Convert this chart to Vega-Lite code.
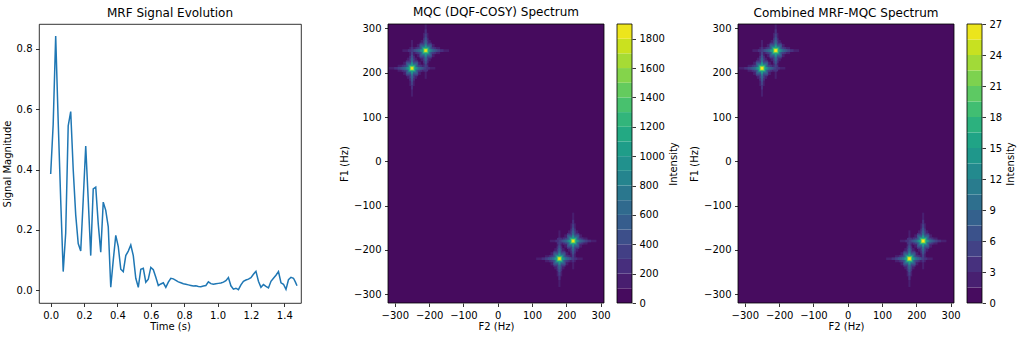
{
  "$schema": "https://vega.github.io/schema/vega-lite/v6.json",
  "background": "white",
  "padding": {"left": 1, "top": 6, "right": 2, "bottom": 2},
  "bounds": "flush",
  "spacing": 87,
  "config": {
    "font": "DejaVu Sans",
    "view": {"stroke": null},
    "axis": {"labelFont": "DejaVu Sans", "labelFontSize": 10, "labelColor": "#000", "titleFont": "DejaVu Sans", "titleFontSize": 10, "titleFontWeight": "normal", "titleColor": "#000", "tickColor": "#000", "tickWidth": 0.8, "tickSize": 3.5, "labelPadding": 3.5, "titlePadding": 4, "grid": false, "domain": false, "labelOverlap": false},
    "axisX": {"titlePadding": 1.5},
    "title": {"font": "DejaVu Sans", "fontSize": 12, "fontWeight": "normal", "color": "#000", "offset": 4, "baseline": "alphabetic", "anchor": "middle"}
  },
  "datasets": {
    "signal": [
      {"t": 0.000, "v": 0.385}, {"t": 0.015, "v": 0.55}, {"t": 0.030, "v": 0.842}, {"t": 0.045, "v": 0.56},
      {"t": 0.060, "v": 0.30}, {"t": 0.075, "v": 0.062}, {"t": 0.090, "v": 0.19}, {"t": 0.105, "v": 0.545},
      {"t": 0.120, "v": 0.592}, {"t": 0.135, "v": 0.40}, {"t": 0.150, "v": 0.25}, {"t": 0.165, "v": 0.155},
      {"t": 0.180, "v": 0.13}, {"t": 0.195, "v": 0.30}, {"t": 0.210, "v": 0.478}, {"t": 0.225, "v": 0.30},
      {"t": 0.240, "v": 0.115}, {"t": 0.255, "v": 0.336}, {"t": 0.270, "v": 0.342}, {"t": 0.285, "v": 0.22},
      {"t": 0.300, "v": 0.126}, {"t": 0.315, "v": 0.292}, {"t": 0.330, "v": 0.265}, {"t": 0.345, "v": 0.21},
      {"t": 0.360, "v": 0.01}, {"t": 0.375, "v": 0.10}, {"t": 0.390, "v": 0.182}, {"t": 0.405, "v": 0.145},
      {"t": 0.420, "v": 0.07}, {"t": 0.435, "v": 0.062}, {"t": 0.450, "v": 0.115}, {"t": 0.465, "v": 0.13},
      {"t": 0.480, "v": 0.15}, {"t": 0.495, "v": 0.115}, {"t": 0.510, "v": 0.04}, {"t": 0.525, "v": 0.01},
      {"t": 0.540, "v": 0.07}, {"t": 0.555, "v": 0.073}, {"t": 0.570, "v": 0.027}, {"t": 0.585, "v": 0.037},
      {"t": 0.600, "v": 0.076}, {"t": 0.615, "v": 0.068}, {"t": 0.630, "v": 0.043}, {"t": 0.645, "v": 0.016},
      {"t": 0.660, "v": 0.021}, {"t": 0.675, "v": 0.025}, {"t": 0.690, "v": 0.01}, {"t": 0.705, "v": 0.027},
      {"t": 0.720, "v": 0.04}, {"t": 0.735, "v": 0.038}, {"t": 0.750, "v": 0.033}, {"t": 0.765, "v": 0.028},
      {"t": 0.780, "v": 0.025}, {"t": 0.795, "v": 0.022}, {"t": 0.810, "v": 0.02}, {"t": 0.825, "v": 0.018},
      {"t": 0.840, "v": 0.016}, {"t": 0.855, "v": 0.014}, {"t": 0.870, "v": 0.015}, {"t": 0.885, "v": 0.013},
      {"t": 0.900, "v": 0.012}, {"t": 0.915, "v": 0.014}, {"t": 0.930, "v": 0.016}, {"t": 0.945, "v": 0.028},
      {"t": 0.960, "v": 0.022}, {"t": 0.975, "v": 0.02}, {"t": 0.990, "v": 0.022}, {"t": 1.005, "v": 0.023},
      {"t": 1.020, "v": 0.024}, {"t": 1.035, "v": 0.027}, {"t": 1.050, "v": 0.032}, {"t": 1.065, "v": 0.042},
      {"t": 1.080, "v": 0.015}, {"t": 1.095, "v": 0.004}, {"t": 1.110, "v": 0.007}, {"t": 1.125, "v": 0.002},
      {"t": 1.140, "v": 0.018}, {"t": 1.155, "v": 0.03}, {"t": 1.170, "v": 0.034}, {"t": 1.185, "v": 0.037},
      {"t": 1.200, "v": 0.042}, {"t": 1.215, "v": 0.053}, {"t": 1.230, "v": 0.063}, {"t": 1.245, "v": 0.03},
      {"t": 1.260, "v": 0.01}, {"t": 1.275, "v": 0.019}, {"t": 1.290, "v": 0.013}, {"t": 1.305, "v": 0.008},
      {"t": 1.320, "v": 0.03}, {"t": 1.335, "v": 0.04}, {"t": 1.350, "v": 0.05}, {"t": 1.365, "v": 0.062},
      {"t": 1.380, "v": 0.025}, {"t": 1.395, "v": 0.02}, {"t": 1.410, "v": 0.003}, {"t": 1.425, "v": 0.035},
      {"t": 1.440, "v": 0.043}, {"t": 1.455, "v": 0.04}, {"t": 1.466, "v": 0.028}, {"t": 1.476, "v": 0.015}
    ],
    "bg": [{"x1": -320, "x2": 310, "y1": -320, "y2": 310, "b": 0}],
    "peaks": [
      {"x1": -318, "x2": -182, "y1": 207, "y2": 213, "b": 1},
      {"x1": -253, "x2": -247, "y1": 146, "y2": 274, "b": 1},
      {"x1": -292, "x2": -208, "y1": 202, "y2": 218, "b": 1},
      {"x1": -258, "x2": -242, "y1": 170, "y2": 250, "b": 1},
      {"x1": -276, "x2": -224, "y1": 195, "y2": 225, "b": 1},
      {"x1": -265, "x2": -235, "y1": 186, "y2": 234, "b": 1},
      {"x1": -278, "x2": -142, "y1": 247, "y2": 253, "b": 1},
      {"x1": -213, "x2": -207, "y1": 186, "y2": 310, "b": 1},
      {"x1": -252, "x2": -168, "y1": 242, "y2": 258, "b": 1},
      {"x1": -218, "x2": -202, "y1": 210, "y2": 290, "b": 1},
      {"x1": -236, "x2": -184, "y1": 235, "y2": 265, "b": 1},
      {"x1": -225, "x2": -195, "y1": 226, "y2": 274, "b": 1},
      {"x1": 152, "x2": 288, "y1": -183, "y2": -177, "b": 1},
      {"x1": 217, "x2": 223, "y1": -244, "y2": -116, "b": 1},
      {"x1": 178, "x2": 262, "y1": -188, "y2": -172, "b": 1},
      {"x1": 212, "x2": 228, "y1": -220, "y2": -140, "b": 1},
      {"x1": 194, "x2": 246, "y1": -195, "y2": -165, "b": 1},
      {"x1": 205, "x2": 235, "y1": -204, "y2": -156, "b": 1},
      {"x1": 112, "x2": 248, "y1": -223, "y2": -217, "b": 1},
      {"x1": 177, "x2": 183, "y1": -284, "y2": -156, "b": 1},
      {"x1": 138, "x2": 222, "y1": -228, "y2": -212, "b": 1},
      {"x1": 172, "x2": 188, "y1": -260, "y2": -180, "b": 1},
      {"x1": 154, "x2": 206, "y1": -235, "y2": -205, "b": 1},
      {"x1": 165, "x2": 195, "y1": -244, "y2": -196, "b": 1},
      {"x1": -258, "x2": -242, "y1": 242, "y2": 258, "b": 1},
      {"x1": 212, "x2": 228, "y1": -228, "y2": -212, "b": 1},

      {"x1": -302, "x2": -198, "y1": 207, "y2": 213, "b": 2},
      {"x1": -253, "x2": -247, "y1": 162, "y2": 258, "b": 2},
      {"x1": -280, "x2": -220, "y1": 202, "y2": 218, "b": 2},
      {"x1": -258, "x2": -242, "y1": 182, "y2": 238, "b": 2},
      {"x1": -268, "x2": -232, "y1": 192, "y2": 228, "b": 2},
      {"x1": -262, "x2": -158, "y1": 247, "y2": 253, "b": 2},
      {"x1": -213, "x2": -207, "y1": 202, "y2": 298, "b": 2},
      {"x1": -240, "x2": -180, "y1": 242, "y2": 258, "b": 2},
      {"x1": -218, "x2": -202, "y1": 222, "y2": 278, "b": 2},
      {"x1": -228, "x2": -192, "y1": 232, "y2": 268, "b": 2},
      {"x1": 168, "x2": 272, "y1": -183, "y2": -177, "b": 2},
      {"x1": 217, "x2": 223, "y1": -228, "y2": -132, "b": 2},
      {"x1": 190, "x2": 250, "y1": -188, "y2": -172, "b": 2},
      {"x1": 212, "x2": 228, "y1": -208, "y2": -152, "b": 2},
      {"x1": 202, "x2": 238, "y1": -198, "y2": -162, "b": 2},
      {"x1": 128, "x2": 232, "y1": -223, "y2": -217, "b": 2},
      {"x1": 177, "x2": 183, "y1": -268, "y2": -172, "b": 2},
      {"x1": 150, "x2": 210, "y1": -228, "y2": -212, "b": 2},
      {"x1": 172, "x2": 188, "y1": -248, "y2": -192, "b": 2},
      {"x1": 162, "x2": 198, "y1": -238, "y2": -202, "b": 2},
      {"x1": -217, "x2": -203, "y1": 203, "y2": 217, "b": 2},
      {"x1": 173, "x2": 187, "y1": -187, "y2": -173, "b": 2},

      {"x1": -292, "x2": -208, "y1": 207, "y2": 213, "b": 3},
      {"x1": -253, "x2": -247, "y1": 172, "y2": 248, "b": 3},
      {"x1": -274, "x2": -226, "y1": 203, "y2": 217, "b": 3},
      {"x1": -257, "x2": -243, "y1": 188, "y2": 232, "b": 3},
      {"x1": -266, "x2": -234, "y1": 194, "y2": 226, "b": 3},
      {"x1": -252, "x2": -168, "y1": 247, "y2": 253, "b": 3},
      {"x1": -213, "x2": -207, "y1": 212, "y2": 288, "b": 3},
      {"x1": -234, "x2": -186, "y1": 243, "y2": 257, "b": 3},
      {"x1": -217, "x2": -203, "y1": 228, "y2": 272, "b": 3},
      {"x1": -226, "x2": -194, "y1": 234, "y2": 266, "b": 3},
      {"x1": 178, "x2": 262, "y1": -183, "y2": -177, "b": 3},
      {"x1": 217, "x2": 223, "y1": -218, "y2": -142, "b": 3},
      {"x1": 196, "x2": 244, "y1": -187, "y2": -173, "b": 3},
      {"x1": 213, "x2": 227, "y1": -202, "y2": -158, "b": 3},
      {"x1": 204, "x2": 236, "y1": -196, "y2": -164, "b": 3},
      {"x1": 138, "x2": 222, "y1": -223, "y2": -217, "b": 3},
      {"x1": 177, "x2": 183, "y1": -258, "y2": -182, "b": 3},
      {"x1": 156, "x2": 204, "y1": -227, "y2": -213, "b": 3},
      {"x1": 173, "x2": 187, "y1": -242, "y2": -198, "b": 3},
      {"x1": 164, "x2": 196, "y1": -236, "y2": -204, "b": 3},

      {"x1": -284, "x2": -216, "y1": 207, "y2": 213, "b": 4},
      {"x1": -253, "x2": -247, "y1": 180, "y2": 240, "b": 4},
      {"x1": -268, "x2": -232, "y1": 196, "y2": 224, "b": 4},
      {"x1": -244, "x2": -176, "y1": 247, "y2": 253, "b": 4},
      {"x1": -213, "x2": -207, "y1": 220, "y2": 280, "b": 4},
      {"x1": -228, "x2": -192, "y1": 236, "y2": 264, "b": 4},
      {"x1": 186, "x2": 254, "y1": -183, "y2": -177, "b": 4},
      {"x1": 217, "x2": 223, "y1": -210, "y2": -150, "b": 4},
      {"x1": 202, "x2": 238, "y1": -194, "y2": -166, "b": 4},
      {"x1": 146, "x2": 214, "y1": -223, "y2": -217, "b": 4},
      {"x1": 177, "x2": 183, "y1": -250, "y2": -190, "b": 4},
      {"x1": 162, "x2": 198, "y1": -234, "y2": -206, "b": 4},

      {"x1": -278, "x2": -222, "y1": 207, "y2": 213, "b": 5},
      {"x1": -253, "x2": -247, "y1": 186, "y2": 234, "b": 5},
      {"x1": -265, "x2": -235, "y1": 198, "y2": 222, "b": 5},
      {"x1": -238, "x2": -182, "y1": 247, "y2": 253, "b": 5},
      {"x1": -213, "x2": -207, "y1": 226, "y2": 274, "b": 5},
      {"x1": -225, "x2": -195, "y1": 238, "y2": 262, "b": 5},
      {"x1": 192, "x2": 248, "y1": -183, "y2": -177, "b": 5},
      {"x1": 217, "x2": 223, "y1": -204, "y2": -156, "b": 5},
      {"x1": 205, "x2": 235, "y1": -192, "y2": -168, "b": 5},
      {"x1": 152, "x2": 208, "y1": -223, "y2": -217, "b": 5},
      {"x1": 177, "x2": 183, "y1": -244, "y2": -196, "b": 5},
      {"x1": 165, "x2": 195, "y1": -232, "y2": -208, "b": 5},

      {"x1": -272, "x2": -228, "y1": 207, "y2": 213, "b": 6},
      {"x1": -253, "x2": -247, "y1": 192, "y2": 228, "b": 6},
      {"x1": -263, "x2": -237, "y1": 200, "y2": 220, "b": 6},
      {"x1": -232, "x2": -188, "y1": 247, "y2": 253, "b": 6},
      {"x1": -213, "x2": -207, "y1": 232, "y2": 268, "b": 6},
      {"x1": -223, "x2": -197, "y1": 240, "y2": 260, "b": 6},
      {"x1": 198, "x2": 242, "y1": -183, "y2": -177, "b": 6},
      {"x1": 217, "x2": 223, "y1": -198, "y2": -162, "b": 6},
      {"x1": 207, "x2": 233, "y1": -190, "y2": -170, "b": 6},
      {"x1": 158, "x2": 202, "y1": -223, "y2": -217, "b": 6},
      {"x1": 177, "x2": 183, "y1": -238, "y2": -202, "b": 6},
      {"x1": 167, "x2": 193, "y1": -230, "y2": -210, "b": 6},

      {"x1": -267, "x2": -233, "y1": 207, "y2": 213, "b": 8},
      {"x1": -253, "x2": -247, "y1": 196, "y2": 224, "b": 8},
      {"x1": -261, "x2": -239, "y1": 201.5, "y2": 218.5, "b": 8},
      {"x1": -227, "x2": -193, "y1": 247, "y2": 253, "b": 8},
      {"x1": -213, "x2": -207, "y1": 236, "y2": 264, "b": 8},
      {"x1": -221, "x2": -199, "y1": 241.5, "y2": 258.5, "b": 8},
      {"x1": 203, "x2": 237, "y1": -183, "y2": -177, "b": 8},
      {"x1": 217, "x2": 223, "y1": -194, "y2": -166, "b": 8},
      {"x1": 209, "x2": 231, "y1": -188.5, "y2": -171.5, "b": 8},
      {"x1": 163, "x2": 197, "y1": -223, "y2": -217, "b": 8},
      {"x1": 177, "x2": 183, "y1": -234, "y2": -206, "b": 8},
      {"x1": 169, "x2": 191, "y1": -228.5, "y2": -211.5, "b": 8},

      {"x1": -263, "x2": -237, "y1": 207.5, "y2": 212.5, "b": 10},
      {"x1": -252.5, "x2": -247.5, "y1": 199, "y2": 221, "b": 10},
      {"x1": -259, "x2": -241, "y1": 203, "y2": 217, "b": 10},
      {"x1": -223, "x2": -197, "y1": 247.5, "y2": 252.5, "b": 10},
      {"x1": -212.5, "x2": -207.5, "y1": 239, "y2": 261, "b": 10},
      {"x1": -219, "x2": -201, "y1": 243, "y2": 257, "b": 10},
      {"x1": 207, "x2": 233, "y1": -182.5, "y2": -177.5, "b": 10},
      {"x1": 217.5, "x2": 222.5, "y1": -191, "y2": -169, "b": 10},
      {"x1": 211, "x2": 229, "y1": -187, "y2": -173, "b": 10},
      {"x1": 167, "x2": 193, "y1": -222.5, "y2": -217.5, "b": 10},
      {"x1": 177.5, "x2": 182.5, "y1": -231, "y2": -209, "b": 10},
      {"x1": 171, "x2": 189, "y1": -227, "y2": -213, "b": 10},

      {"x1": -257.5, "x2": -242.5, "y1": 204, "y2": 216, "b": 12},
      {"x1": -217.5, "x2": -202.5, "y1": 244, "y2": 256, "b": 12},
      {"x1": 212.5, "x2": 227.5, "y1": -186, "y2": -174, "b": 12},
      {"x1": 172.5, "x2": 187.5, "y1": -226, "y2": -214, "b": 12},

      {"x1": -256, "x2": -244, "y1": 205.5, "y2": 214.5, "b": 14},
      {"x1": -216, "x2": -204, "y1": 245.5, "y2": 254.5, "b": 14},
      {"x1": 214, "x2": 226, "y1": -184.5, "y2": -175.5, "b": 14},
      {"x1": 174, "x2": 186, "y1": -224.5, "y2": -215.5, "b": 14},

      {"x1": -254.5, "x2": -245.5, "y1": 206.5, "y2": 213.5, "b": 16},
      {"x1": -214.5, "x2": -205.5, "y1": 246.5, "y2": 253.5, "b": 16},
      {"x1": 215.5, "x2": 224.5, "y1": -183.5, "y2": -176.5, "b": 16},
      {"x1": 175.5, "x2": 184.5, "y1": -223.5, "y2": -216.5, "b": 16},

      {"x1": -253, "x2": -247, "y1": 207.5, "y2": 212.5, "b": 18},
      {"x1": -213, "x2": -207, "y1": 247.5, "y2": 252.5, "b": 18},
      {"x1": 217, "x2": 223, "y1": -182.5, "y2": -177.5, "b": 18},
      {"x1": 177, "x2": 183, "y1": -222.5, "y2": -217.5, "b": 18}
    ],
    "cbar2": [
      {"lo": 0, "hi": 100, "b": 0}, {"lo": 100, "hi": 200, "b": 1}, {"lo": 200, "hi": 300, "b": 2},
      {"lo": 300, "hi": 400, "b": 3}, {"lo": 400, "hi": 500, "b": 4}, {"lo": 500, "hi": 600, "b": 5},
      {"lo": 600, "hi": 700, "b": 6}, {"lo": 700, "hi": 800, "b": 7}, {"lo": 800, "hi": 900, "b": 8},
      {"lo": 900, "hi": 1000, "b": 9}, {"lo": 1000, "hi": 1100, "b": 10}, {"lo": 1100, "hi": 1200, "b": 11},
      {"lo": 1200, "hi": 1300, "b": 12}, {"lo": 1300, "hi": 1400, "b": 13}, {"lo": 1400, "hi": 1500, "b": 14},
      {"lo": 1500, "hi": 1600, "b": 15}, {"lo": 1600, "hi": 1700, "b": 16}, {"lo": 1700, "hi": 1800, "b": 17},
      {"lo": 1800, "hi": 1900, "b": 18}
    ],
    "cbar3": [
      {"lo": 0, "hi": 1.5, "b": 0}, {"lo": 1.5, "hi": 3, "b": 1}, {"lo": 3, "hi": 4.5, "b": 2},
      {"lo": 4.5, "hi": 6, "b": 3}, {"lo": 6, "hi": 7.5, "b": 4}, {"lo": 7.5, "hi": 9, "b": 5},
      {"lo": 9, "hi": 10.5, "b": 6}, {"lo": 10.5, "hi": 12, "b": 7}, {"lo": 12, "hi": 13.5, "b": 8},
      {"lo": 13.5, "hi": 15, "b": 9}, {"lo": 15, "hi": 16.5, "b": 10}, {"lo": 16.5, "hi": 18, "b": 11},
      {"lo": 18, "hi": 19.5, "b": 12}, {"lo": 19.5, "hi": 21, "b": 13}, {"lo": 21, "hi": 22.5, "b": 14},
      {"lo": 22.5, "hi": 24, "b": 15}, {"lo": 24, "hi": 25.5, "b": 16}, {"lo": 25.5, "hi": 27, "b": 17}
    ]
  },
  "hconcat": [
    {
      "width": 262,
      "height": 279,
      "view": {"stroke": "#000", "strokeWidth": 0.8},
      "title": {"text": "MRF Signal Evolution"},
      "data": {"name": "signal"},
      "mark": {"type": "line", "color": "#1f77b4", "strokeWidth": 1.5},
      "encoding": {
        "x": {"field": "t", "type": "quantitative", "scale": {"domain": [-0.07, 1.5], "nice": false, "zero": false}, "axis": {"values": [0, 0.2, 0.4, 0.6, 0.8, 1.0, 1.2, 1.4], "format": ".1f", "title": "Time (s)"}},
        "y": {"field": "v", "type": "quantitative", "scale": {"domain": [-0.042, 0.882], "nice": false, "zero": false}, "axis": {"values": [0, 0.2, 0.4, 0.6, 0.8], "format": ".1f", "title": "Signal Magnitude"}}
      }
    },
    {
      "width": 263,
      "height": 279,
      "title": {"text": "MQC (DQF-COSY) Spectrum", "dx": -23.5},
      "layer": [
        {
          "layer": [
            {
              "data": {"name": "bg"},
              "mark": {"type": "rect"},
              "encoding": {
                "x": {"field": "x1", "type": "quantitative", "scale": {"domain": [-320, 310], "range": [0, 216], "nice": false, "zero": false}, "axis": {"values": [-300, -200, -100, 0, 100, 200, 300], "title": "F2 (Hz)"}},
                "x2": {"field": "x2"},
                "y": {"field": "y1", "type": "quantitative", "scale": {"domain": [-320, 310], "nice": false, "zero": false}, "axis": {"values": [-300, -200, -100, 0, 100, 200, 300], "title": "F1 (Hz)"}},
                "y2": {"field": "y2"},
                "color": {"field": "b", "type": "quantitative", "scale": {"scheme": "viridis", "domain": [-0.5, 18.5], "clamp": true}, "legend": null}
              }
            },
            {
              "data": {"name": "peaks"},
              "mark": {"type": "rect"},
              "encoding": {
                "x": {"field": "x1", "type": "quantitative"},
                "x2": {"field": "x2"},
                "y": {"field": "y1", "type": "quantitative"},
                "y2": {"field": "y2"},
                "color": {"field": "b", "type": "quantitative", "legend": null}
              }
            },
            {
              "data": {"name": "bg"},
              "mark": {"type": "rect", "filled": false, "color": "#000", "strokeWidth": 0.8},
              "encoding": {
                "x": {"field": "x1", "type": "quantitative"},
                "x2": {"field": "x2"},
                "y": {"field": "y1", "type": "quantitative"},
                "y2": {"field": "y2"}
              }
            }
          ]
        },
        {
          "layer": [
            {
              "data": {"name": "cbar2"},
              "mark": {"type": "rect"},
              "encoding": {
                "x": {"datum": 0, "type": "quantitative", "scale": {"domain": [0, 1], "range": [229, 244], "nice": false, "zero": false}, "axis": null},
                "x2": {"datum": 1},
                "y": {"field": "lo", "type": "quantitative", "scale": {"domain": [0, 1900], "nice": false, "zero": false}, "axis": {"orient": "right", "offset": -19, "values": [0, 200, 400, 600, 800, 1000, 1200, 1400, 1600, 1800], "labelOverlap": false, "tickCount": 10, "format": "d", "title": "Intensity", "titleAngle": 270, "titleBaseline": "top"}},
                "y2": {"field": "hi"},
                "color": {"field": "b", "type": "quantitative", "scale": {"scheme": "viridis", "domain": [-0.5, 18.5], "clamp": true}, "legend": null}
              }
            },
            {
              "data": {"values": [{"lo": 0, "hi": 1900}]},
              "mark": {"type": "rect", "filled": false, "color": "#000", "strokeWidth": 0.8},
              "encoding": {
                "x": {"datum": 0, "type": "quantitative"},
                "x2": {"datum": 1},
                "y": {"field": "lo", "type": "quantitative"},
                "y2": {"field": "hi"}
              }
            }
          ]
        }
      ],
      "resolve": {"scale": {"x": "independent", "y": "independent"}}
    },
    {
      "width": 244,
      "height": 279,
      "title": {"text": "Combined MRF-MQC Spectrum", "dx": -14, "offset": -1},
      "layer": [
        {
          "layer": [
            {
              "data": {"name": "bg"},
              "mark": {"type": "rect"},
              "encoding": {
                "x": {"field": "x1", "type": "quantitative", "scale": {"domain": [-320, 310], "range": [0, 216], "nice": false, "zero": false}, "axis": {"values": [-300, -200, -100, 0, 100, 200, 300], "title": "F2 (Hz)"}},
                "x2": {"field": "x2"},
                "y": {"field": "y1", "type": "quantitative", "scale": {"domain": [-320, 310], "nice": false, "zero": false}, "axis": {"values": [-300, -200, -100, 0, 100, 200, 300], "title": "F1 (Hz)"}},
                "y2": {"field": "y2"},
                "color": {"field": "b", "type": "quantitative", "scale": {"scheme": "viridis", "domain": [-0.5, 17.5], "clamp": true}, "legend": null}
              }
            },
            {
              "data": {"name": "peaks"},
              "mark": {"type": "rect"},
              "encoding": {
                "x": {"field": "x1", "type": "quantitative"},
                "x2": {"field": "x2"},
                "y": {"field": "y1", "type": "quantitative"},
                "y2": {"field": "y2"},
                "color": {"field": "b", "type": "quantitative", "legend": null}
              }
            },
            {
              "data": {"name": "bg"},
              "mark": {"type": "rect", "filled": false, "color": "#000", "strokeWidth": 0.8},
              "encoding": {
                "x": {"field": "x1", "type": "quantitative"},
                "x2": {"field": "x2"},
                "y": {"field": "y1", "type": "quantitative"},
                "y2": {"field": "y2"}
              }
            }
          ]
        },
        {
          "layer": [
            {
              "data": {"name": "cbar3"},
              "mark": {"type": "rect"},
              "encoding": {
                "x": {"datum": 0, "type": "quantitative", "scale": {"domain": [0, 1], "range": [229, 244], "nice": false, "zero": false}, "axis": null},
                "x2": {"datum": 1},
                "y": {"field": "lo", "type": "quantitative", "scale": {"domain": [0, 27], "nice": false, "zero": false}, "axis": {"orient": "right", "values": [0, 3, 6, 9, 12, 15, 18, 21, 24, 27], "labelOverlap": false, "tickCount": 10, "format": "d", "title": "Intensity", "titleAngle": 270, "titleBaseline": "top"}},
                "y2": {"field": "hi"},
                "color": {"field": "b", "type": "quantitative", "scale": {"scheme": "viridis", "domain": [-0.5, 17.5], "clamp": true}, "legend": null}
              }
            },
            {
              "data": {"values": [{"lo": 0, "hi": 27}]},
              "mark": {"type": "rect", "filled": false, "color": "#000", "strokeWidth": 0.8},
              "encoding": {
                "x": {"datum": 0, "type": "quantitative"},
                "x2": {"datum": 1},
                "y": {"field": "lo", "type": "quantitative", "axis": {"orient": "right", "values": [0, 3, 6, 9, 12, 15, 18, 21, 24, 27], "labelOverlap": false, "format": "d", "title": "Intensity", "titleAngle": 270, "titleBaseline": "top"}},
                "y2": {"field": "hi"}
              }
            }
          ]
        }
      ],
      "resolve": {"scale": {"x": "independent", "y": "independent", "color": "independent"}}
    }
  ]
}
